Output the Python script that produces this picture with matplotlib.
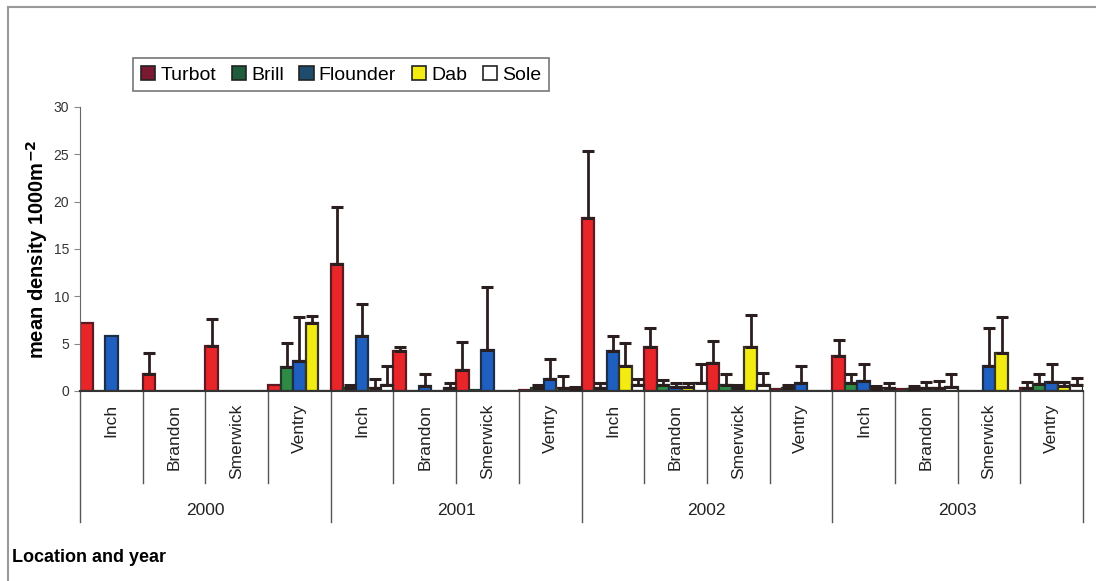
import matplotlib.pyplot as plt
from matplotlib.patches import Patch
from matplotlib.lines import Line2D
import numpy as np

plt.rcParams['font.family'] = ['Liberation Sans', 'DejaVu Sans']

years = ['2000', '2001', '2002', '2003']
locations = ['Inch', 'Brandon', 'Smerwick', 'Ventry']
species = ['Turbot', 'Brill', 'Flounder', 'Dab', 'Sole']

# mean density per group (2000 Inch, Brandon, Smerwick, Ventry, 2001 ..., 2003 ...)
turbot = [7.2, 1.8, 4.8, 0.6, 13.4, 4.2, 2.2, 0.1, 18.3, 4.6, 3.0, 0.2, 3.7, 0.2, 0.0, 0.3]
brill = [0.0, 0.0, 0.0, 2.5, 0.3, 0.0, 0.1, 0.3, 0.3, 0.6, 0.6, 0.3, 0.8, 0.2, 0.0, 0.7]
flounder = [5.8, 0.0, 0.0, 3.2, 5.8, 0.5, 4.3, 1.3, 4.2, 0.4, 0.3, 0.8, 1.1, 0.3, 2.6, 1.0]
dab = [0.0, 0.0, 0.0, 7.2, 0.3, 0.0, 0.0, 0.3, 2.6, 0.4, 4.6, 0.0, 0.2, 0.3, 4.0, 0.5]
sole = [0.0, 0.0, 0.0, 0.0, 0.6, 0.3, 0.0, 0.2, 0.6, 0.8, 0.6, 0.0, 0.3, 0.4, 0.0, 0.6]

# upper error (nan = no error bar drawn)
nan = np.nan
turbot_se = [nan, 2.2, 2.8, nan, 6.0, 0.4, 3.0, nan, 7.0, 2.1, 2.3, nan, 1.7, nan, nan, 0.6]
brill_se = [nan, nan, nan, 2.6, 0.3, nan, nan, 0.3, 0.5, 0.6, 1.2, 0.3, 1.0, 0.3, nan, 1.1]
flounder_se = [nan, nan, nan, 4.6, 3.4, 1.3, 6.7, 2.1, 1.6, 0.4, 0.3, 1.8, 1.8, 0.6, 4.1, 1.9]
dab_se = [nan, nan, nan, 0.7, 1.0, nan, nan, 1.3, 2.5, 0.4, 3.4, nan, 0.3, 0.8, 3.8, 0.5]
sole_se = [nan, nan, nan, nan, 2.0, 0.5, nan, 0.2, 0.7, 2.0, 1.3, nan, 0.5, 1.4, nan, 0.8]

means = [turbot, brill, flounder, dab, sole]
errs = [turbot_se, brill_se, flounder_se, dab_se, sole_se]
bar_colors = ['#e8262a', '#2f8a45', '#1f5fc0', '#f2ec12', '#ffffff']
edge_colors = ['#5e1a22', '#1d3d2a', '#1c2f4a', '#3a3520', '#2a2a2a']
legend_colors = ['#7a1a32', '#1f5c3c', '#1f4c6c', '#f2ec12', '#ffffff']

fig = plt.figure(figsize=(10.96, 5.81), dpi=100)
ax = fig.add_axes([80/1096, 1-391/581, (1083-80)/1096, (391-107)/581])

n_groups = len(turbot)
x = np.arange(n_groups)
w = 0.2
for k in range(5):
    pos = x + w/2 + k*w
    ax.bar(pos, means[k], width=w, color=bar_colors[k],
           edgecolor=edge_colors[k], linewidth=1.6, zorder=2)
    m = np.array(means[k])
    e = np.array(errs[k])
    ok = ~np.isnan(e)
    ax.errorbar(pos[ok], m[ok], yerr=[np.zeros(ok.sum()), e[ok]], fmt='none',
                ecolor='#2b1e1e', elinewidth=2, capsize=4.5, capthick=2.2, zorder=3)

ax.set_xlim(0, n_groups)
ax.set_ylim(0, 30)
ax.set_yticks(range(0, 31, 5))
ax.tick_params(axis='y', direction='out', length=4, color='#888888',
               labelsize=10, labelcolor='#333333', pad=4)
ax.set_xticks([])
ax.spines['top'].set_visible(False)
ax.spines['right'].set_visible(False)
ax.spines['left'].set_color('#666666')
ax.spines['bottom'].set_color('#333333')
ax.spines['bottom'].set_linewidth(1.5)
ax.set_ylabel('mean density 1000m$^{\\mathbf{-2}}$', fontsize=14.5, fontweight='bold', labelpad=2)

# hierarchical x labels
trans = ax.get_xaxis_transform()
for i in range(n_groups):
    ax.text(i + 0.5, -0.045, locations[i % 4], rotation=90, ha='center', va='top',
            fontsize=12.5, color='#222222', transform=trans)
for i in range(n_groups + 1):
    bottom = -0.46 if i % 4 == 0 else -0.325
    ax.plot([i, i], [0, bottom], color='#555555', lw=1, transform=trans, clip_on=False)
for j, yr in enumerate(years):
    ax.text(j*4 + 2, -0.42, yr, ha='center', va='center', fontsize=12.5,
            color='#222222', transform=trans)

fig.text(12/1096, 1-558/581, 'Location and year', fontsize=13, fontweight='bold',
         va='center', ha='left')

handles = [Patch(facecolor=legend_colors[k], edgecolor='#222222', linewidth=1.2)
           for k in range(5)]
leg = fig.legend(handles, species, loc='upper left', bbox_to_anchor=(133/1096, 1-58/581),
                 ncol=5, fontsize=14, frameon=True, fancybox=False, handlelength=0.75,
                 handleheight=0.75, handletextpad=0.25, columnspacing=0.8,
                 borderpad=0.4, borderaxespad=0)
leg.get_frame().set_edgecolor('#555555')
leg.get_frame().set_linewidth(1.2)

# outer border of the chart area
fig.add_artist(Line2D([8/1096, 8/1096], [0, 1-7/581], color='#999999', lw=1.5))
fig.add_artist(Line2D([8/1096, 1], [1-7/581, 1-7/581], color='#999999', lw=1.5))

fig.savefig('out.png', dpi=100)
